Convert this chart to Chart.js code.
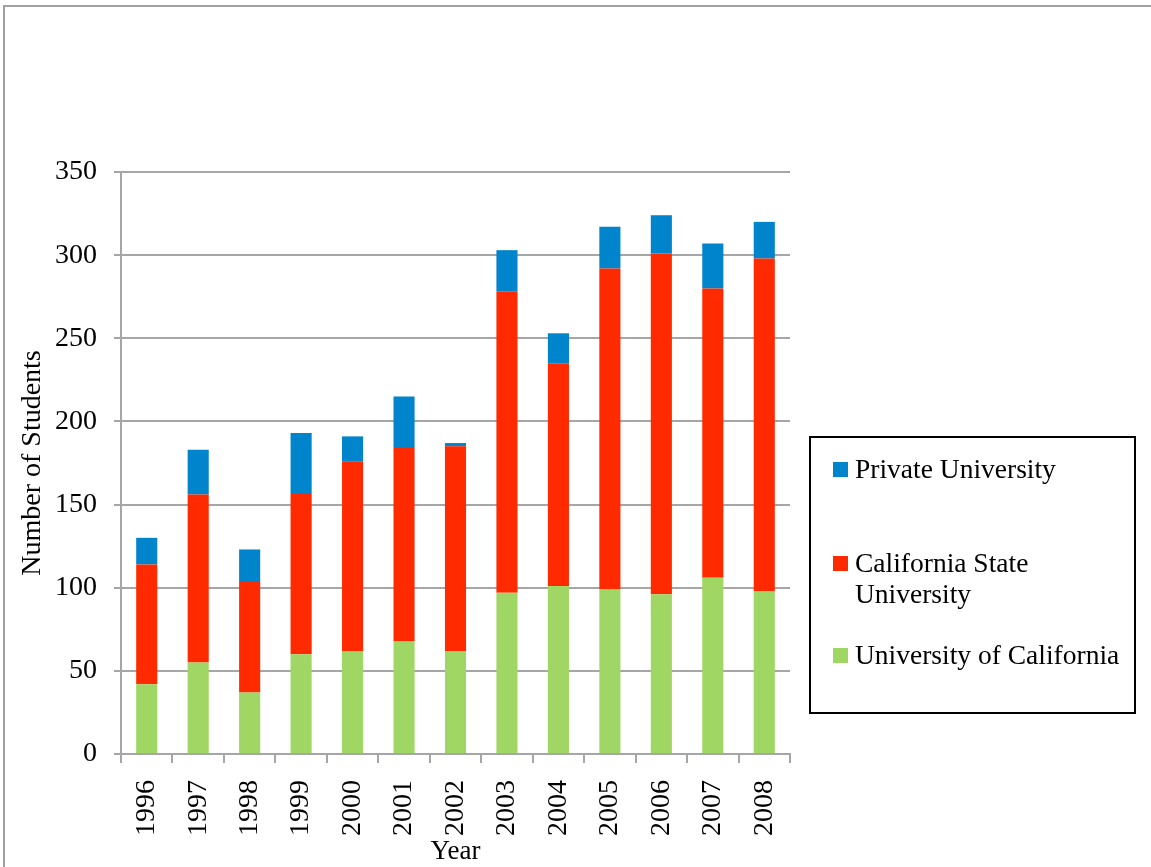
<!DOCTYPE html>
<html>
<head>
<meta charset="utf-8">
<script src="https://cdn.jsdelivr.net/npm/chart.js@4"></script>
<style>
  html, body { margin: 0; padding: 0; background: #fff; }
  #wrap { position: relative; width: 1151px; height: 867px; overflow: hidden; }
  #frame { position: absolute; left: 3px; top: 5px; width: 1200px; height: 900px;
           border-left: 2px solid #a0a0a0; border-top: 2px solid #a0a0a0; }
  #chart { position: absolute; left: 0; top: 0; }
  #legend { position: absolute; left: 809px; top: 436px; width: 323px; height: 274px;
            border: 2px solid #000; font-family: "Liberation Serif", serif; font-size: 27.5px;
            color: #000; }
  .item { position: absolute; left: 22px; line-height: 31px; }
  .item .box { position: absolute; left: 0; top: 9px; width: 15px; height: 15px; }
  .item .txt { margin-left: 22px; }
</style>
</head>
<body>
<div id="wrap">
  <div id="frame"></div>
  <canvas id="chart" width="1151" height="867"></canvas>
  <div id="legend"></div>
</div>
<script>
const years = ['1996', '1997', '1998', '1999', '2000', '2001', '2002', '2003', '2004', '2005', '2006', '2007', '2008'];
const univCalifornia = [42, 55, 37, 60, 62, 68, 62, 97, 101, 99, 96, 106, 98];
const calState = [72, 101, 67, 97, 114, 116, 123, 181, 134, 193, 205, 174, 200];
const privateUniv = [16, 27, 19, 36, 15, 31, 2, 25, 18, 25, 23, 27, 22];

const colors = { uc: '#9fd664', csu: '#ff2a00', priv: '#0084cc' };
const gridColor = '#a6a6a6';
const serif = "'Liberation Serif', serif";

const ctx = document.getElementById('chart').getContext('2d');
new Chart(ctx, {
    type: 'bar',
    data: {
        labels: years,
        datasets: [
            { label: 'University of California', data: univCalifornia, backgroundColor: colors.uc },
            { label: 'California State University', data: calState, backgroundColor: colors.csu },
            { label: 'Private University', data: privateUniv, backgroundColor: colors.priv }
        ]
    },
    options: {
        responsive: false,
        animation: false,
        layout: { padding: { top: 172, right: 361, left: 0, bottom: 0 } },
        plugins: { legend: { display: false }, tooltip: { enabled: false } },
        datasets: { bar: { barPercentage: 0.41, categoryPercentage: 1 } },
        scales: {
            x: {
                stacked: true,
                grid: { drawOnChartArea: false, color: gridColor, lineWidth: 2, tickLength: 9, offset: true },
                border: { color: gridColor, width: 2 },
                ticks: { color: '#000', font: { family: serif, size: 28 }, minRotation: 90, maxRotation: 90, padding: 17 },
                title: { display: true, text: 'Year', color: '#000', font: { family: serif, size: 27, lineHeight: 1.1 }, padding: { top: 0, bottom: 0 } },
                afterFit: (scale) => { scale.height = 113; }
            },
            y: {
                stacked: true,
                min: 0,
                max: 350,
                grid: { color: gridColor, lineWidth: 2, tickLength: 7 },
                border: { color: gridColor, width: 2 },
                ticks: { stepSize: 50, color: '#000', font: { family: serif, size: 28 }, padding: 17 },
                title: { display: true, text: 'Number of Students', color: '#000', font: { family: serif, size: 28, lineHeight: 1.1 }, padding: { top: 17, bottom: 0 } },
                afterFit: (scale) => { scale.width = 121; }
            }
        }
    }
});

// legend drawn as html box on the right
const legendItems = [
    { text: 'Private University', color: colors.priv, top: 15 },
    { text: 'California State<br>University', color: colors.csu, top: 109 },
    { text: 'University of California', color: colors.uc, top: 201 }
];
document.getElementById('legend').innerHTML = legendItems.map(item => `
    <div class="item" style="top:${item.top}px">
        <span class="box" style="background:${item.color}"></span>
        <div class="txt">${item.text}</div>
    </div>
`).join('');
</script>
</body>
</html>
